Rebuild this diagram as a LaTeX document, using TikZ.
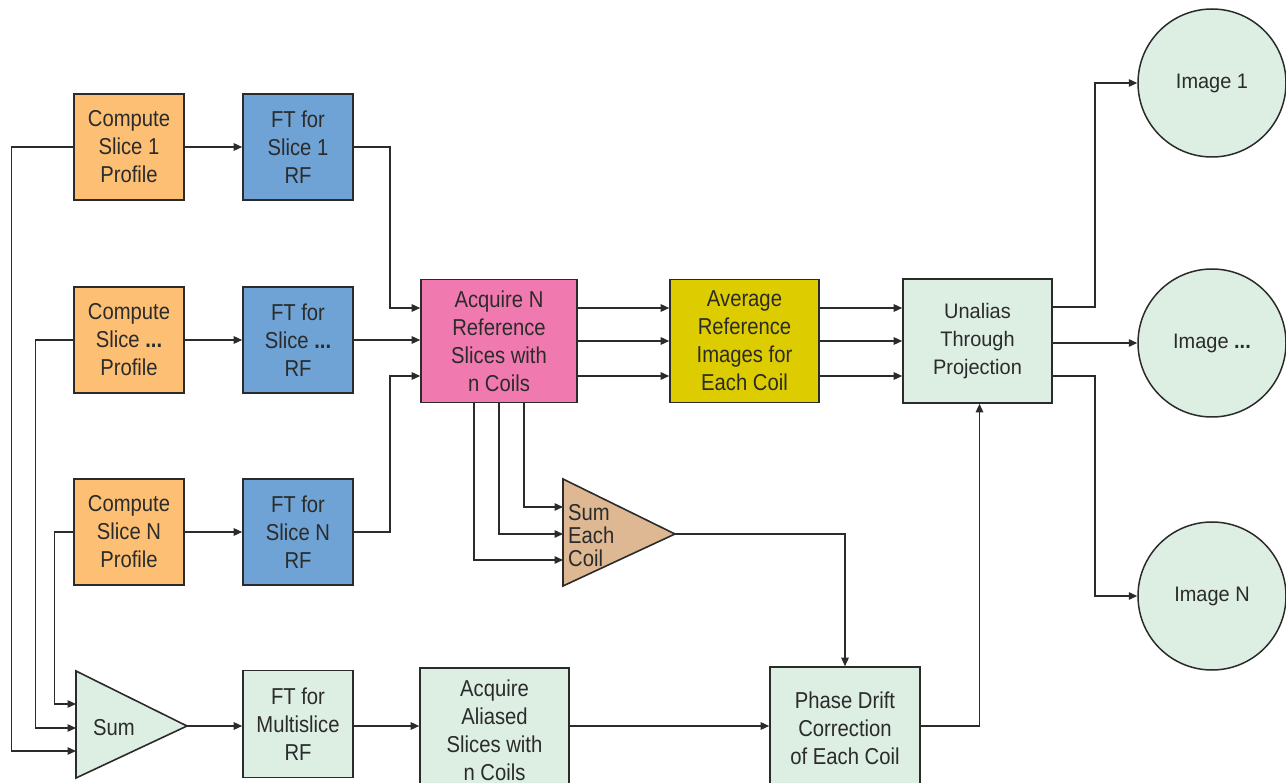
\documentclass[tikz,border=0pt]{standalone}
\usepackage{fontspec}
\setmainfont{Liberation Sans}
\newfontfamily\narrowf[FakeStretch=0.88]{Liberation Sans}
\newfontfamily\widef[FakeStretch=0.95]{Liberation Sans}
\usetikzlibrary{arrows.meta,calc}
\definecolor{linec}{HTML}{2B2B2B}
\definecolor{orangef}{HTML}{FDBF73}
\definecolor{bluef}{HTML}{6FA3D5}
\definecolor{pinkf}{HTML}{F07AAF}
\definecolor{yellowf}{HTML}{DDCC00}
\definecolor{greenf}{HTML}{DDEEE3}
\definecolor{tanf}{HTML}{DDB893}
\tikzset{
  box/.style={draw=linec, line width=1.6pt, align=center, inner sep=0pt,
    text=linec, font=\narrowf\fontsize{23}{28}\selectfont,
    minimum width=110pt, minimum height=106pt},
  wbox/.style={box, font=\widef\fontsize{21}{28}\selectfont},
  imgnode/.style={draw=linec, line width=1.5pt, circle, fill=greenf, minimum size=148pt,
    inner sep=0pt, text=linec, font=\widef\fontsize{21}{28}\selectfont},
  tri/.style={draw=linec, line width=1.6pt},
  arr/.style={-{Triangle[length=8.5pt,width=7.5pt]}, line width=1.4pt, draw=linec},
  ln/.style={line width=1.4pt, draw=linec}
}
\begin{document}
\begin{tikzpicture}[x=1pt,y=-1pt]
\useasboundingbox (0,0) rectangle (1286,783);
% left column
\node[box, fill=orangef] (c1) at (129,147) {Compute\\Slice 1\\Profile};
\node[box, fill=bluef]   (f1) at (298,147) {FT for\\Slice 1\\RF};
\node[box, fill=orangef] (c2) at (129,340) {Compute\\Slice \textbf{...}\\Profile};
\node[box, fill=bluef]   (f2) at (298,340) {FT for\\Slice \textbf{...}\\RF};
\node[box, fill=orangef] (c3) at (129,532) {Compute\\Slice N\\Profile};
\node[box, fill=bluef]   (f3) at (298,532) {FT for\\Slice N\\RF};
\node[box, fill=greenf, minimum height=107pt] (ftm) at (298,724) {FT for\\Multislice\\RF};
% middle
\node[box, fill=pinkf, minimum width=156pt, minimum height=123pt] (acqN) at (499,341) {Acquire N\\Reference\\Slices with\\n Coils};
\node[box, fill=yellowf, minimum width=149pt, minimum height=123pt] (avg) at (744.5,341) {Average\\Reference\\Images for\\Each Coil};
\node[wbox, fill=greenf, minimum width=149pt, minimum height=124pt] (unal) at (977.5,341) {Unalias\\Through\\Projection};
\node[box, fill=greenf, minimum width=149pt, minimum height=124pt] (acqA) at (494.5,730) {Acquire\\Aliased\\Slices with\\n Coils};
\node[box, fill=greenf, minimum width=150pt, minimum height=122pt] (phase) at (845,728) {Phase Drift\\Correction\\of Each Coil};
% images
\node[imgnode] (img1) at (1212,83) {Image 1};
\node[imgnode] (img2) at (1212,343) {Image \textbf{...}};
\node[imgnode] (img3) at (1212,596) {Image N};
% Sum triangle
\coordinate (sumT) at (76,671);
\coordinate (sumB) at (76,778);
\coordinate (sumTip) at (187,726);
\draw[tri, fill=greenf] (sumT) -- (sumTip) -- (sumB) -- cycle;
\node[font=\narrowf\fontsize{23}{28}\selectfont, text=linec] (sumlbl) at (114,728) {Sum};
\coordinate (sumIn1) at (76,704);
\coordinate (sumIn2) at (76,728);
\coordinate (sumIn3) at (76,751);
% Sum Each Coil triangle
\coordinate (secT) at (563,479);
\coordinate (secB) at (563,586);
\coordinate (secTip) at (675,534);
\draw[tri, fill=tanf] (secT) -- (secTip) -- (secB) -- cycle;
\node[font=\narrowf\fontsize{23}{23}\selectfont, text=linec, align=left, anchor=west, inner sep=0pt] (seclbl) at (568,536) {Sum\\Each\\Coil};
\coordinate (secIn1) at (563,507);
\coordinate (secIn2) at (563,534);
\coordinate (secIn3) at (563,560);
% connectors: compute -> FT
\draw[arr] (c1.east) -- (f1.west);
\draw[arr] (c2.east) -- (f2.west);
\draw[arr] (c3.east) -- (f3.west);
% FT -> acquire N
\draw[arr] (f1.east) -- ++(36,0) |- ([yshift=33pt]acqN.west);
\draw[arr] (f2.east) -- (f2.east -| acqN.west);
\draw[arr] (f3.east) -- ++(36,0) |- ([yshift=-35pt]acqN.west);
% compute -> sum
\draw[arr] (c1.west) -- ++(-62,0) |- (sumIn3);
\draw[arr] (c2.west) -- ++(-38,0) |- (sumIn2);
\draw[arr] (c3.west) -- ++(-19,0) |- (sumIn1);
% bottom row
\draw[arr] (sumTip) -- (sumTip -| ftm.west);
\draw[arr] (ftm.east |- sumTip) -- (acqA.west |- sumTip);
\draw[arr] (acqA.east |- sumTip) -- (phase.west |- sumTip);
% acquire N -> average -> unalias
\foreach \s in {33,0,-35} {
  \draw[arr] ([yshift=\s pt]acqN.east) -- ([yshift=\s pt]avg.west);
  \draw[arr] ([yshift=\s pt]avg.east) -- ([yshift=\s pt]unal.west);
}
% acquire N -> sum each coil
\draw[arr] ([xshift=25pt]acqN.south) |- (secIn1);
\draw[arr] (acqN.south) |- (secIn2);
\draw[arr] ([xshift=-25pt]acqN.south) |- (secIn3);
% sum each coil -> phase drift
\draw[arr] (secTip) -| (phase.north);
% phase drift -> unalias
\draw[arr] (phase.east |- sumTip) -| ([xshift=2pt]unal.south);
% unalias -> images
\draw[arr] ([yshift=34pt]unal.east) -- ++(42,0) |- (img1.west);
\draw[arr] (unal.east |- img2.west) -- (img2.west);
\draw[arr] ([yshift=-35pt]unal.east) -- ++(42,0) |- (img3.west);
\end{tikzpicture}
\end{document}
